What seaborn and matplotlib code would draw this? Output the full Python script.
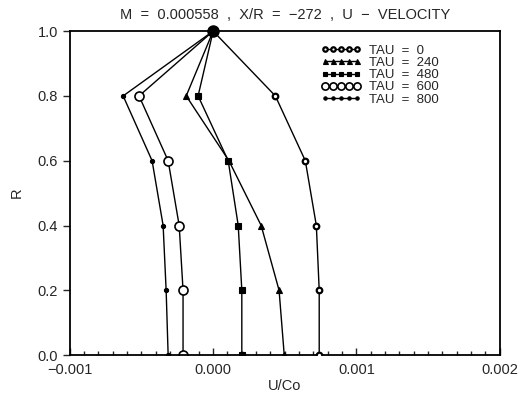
import matplotlib
matplotlib.use("Agg")
import matplotlib.pyplot as plt
import seaborn as sns
import pandas as pd
from matplotlib.ticker import MultipleLocator

sns.set_style("ticks")
plt.rcParams['font.family'] = ['Liberation Sans', 'DejaVu Sans']

R = [1.0, 0.8, 0.6, 0.4, 0.2, 0.0]
tau_labels = ["TAU  =  0", "TAU  =  240", "TAU  =  480", "TAU  =  600", "TAU  =  800"]
u_tau0 = [0.0, 0.000434, 0.000643, 0.00072, 0.00074, 0.00074]
u_tau240 = [0.0, -0.000188, 0.00011, 0.000335, 0.00046, 0.000496]
u_tau480 = [0.0, -0.000105, 0.000105, 0.000175, 0.0002, 0.0002]
u_tau600 = [0.0, -0.000517, -0.000314, -0.000237, -0.00021, -0.00021]
u_tau800 = [0.0, -0.000628, -0.000426, -0.000349, -0.000328, -0.000314]

series = [u_tau0, u_tau240, u_tau480, u_tau600, u_tau800]
markers = ["o", "^", "s", "o", "o"]
msizes = [4, 4.5, 4, 6.5, 3]
mfaces = ["white", "black", "black", "white", "black"]
mews = [1.6, 0.8, 0.8, 1.2, 0.8]
zorders = [3, 4, 4, 2, 4]

fig = plt.figure(figsize=(5.25, 3.99), dpi=100)
ax = fig.add_axes([0.133, 0.110, 0.819, 0.812])

for lab, u, m, ms, mf, mw, z in zip(tau_labels, series, markers, msizes, mfaces, mews, zorders):
    df = pd.DataFrame({"U": u, "R": R})
    sns.lineplot(data=df, x="U", y="R", sort=False, estimator=None, ax=ax,
                 color="black", lw=1.0, marker=m, markersize=ms,
                 markerfacecolor=mf, markeredgecolor="black", markeredgewidth=mw,
                 label=lab, zorder=z)

# emphasise the common point where all profiles meet
ax.plot([u_tau0[0]], [R[0]], marker="o", ms=8, color="black", zorder=6, clip_on=False)

ax.set_xlim(-0.001, 0.002)
ax.set_ylim(0.0, 1.0)
ax.xaxis.set_major_locator(MultipleLocator(0.001))
ax.xaxis.set_minor_locator(MultipleLocator(0.0001))
ax.yaxis.set_major_locator(MultipleLocator(0.2))
ax.set_xticklabels([f"{v:.3f}".replace("-", "\u2212") for v in ax.get_xticks()])
ax.tick_params(axis="x", which="both", direction="in", labelsize=10.5, width=1, pad=6)
ax.tick_params(axis="x", which="major", length=5)
ax.tick_params(axis="x", which="minor", length=3)
ax.tick_params(axis="y", direction="out", length=5, labelsize=10.5, width=1)
for sp in ax.spines.values():
    sp.set_visible(True)
    sp.set_linewidth(1.3)
    sp.set_color("black")

ax.set_xlabel("U/Co", fontsize=10.5, labelpad=1)
ax.set_ylabel("R", fontsize=10.5, labelpad=10)
ax.set_title("M  =  0.000558  ,  X/R  =  \u2212272  ,  U  \u2212  VELOCITY", fontsize=10.5, pad=9)

handles, labels = ax.get_legend_handles_labels()
handles = [h for h, l in zip(handles, labels) if l in tau_labels]
leg = ax.legend(handles, tau_labels, loc="upper right", bbox_to_anchor=(0.87, 0.975), numpoints=5,
                handlelength=3.0, frameon=False, fontsize=9.5, labelspacing=0.0,
                handletextpad=0.6, borderaxespad=0, markerscale=0.8)

fig.savefig("out.png", dpi=100)
